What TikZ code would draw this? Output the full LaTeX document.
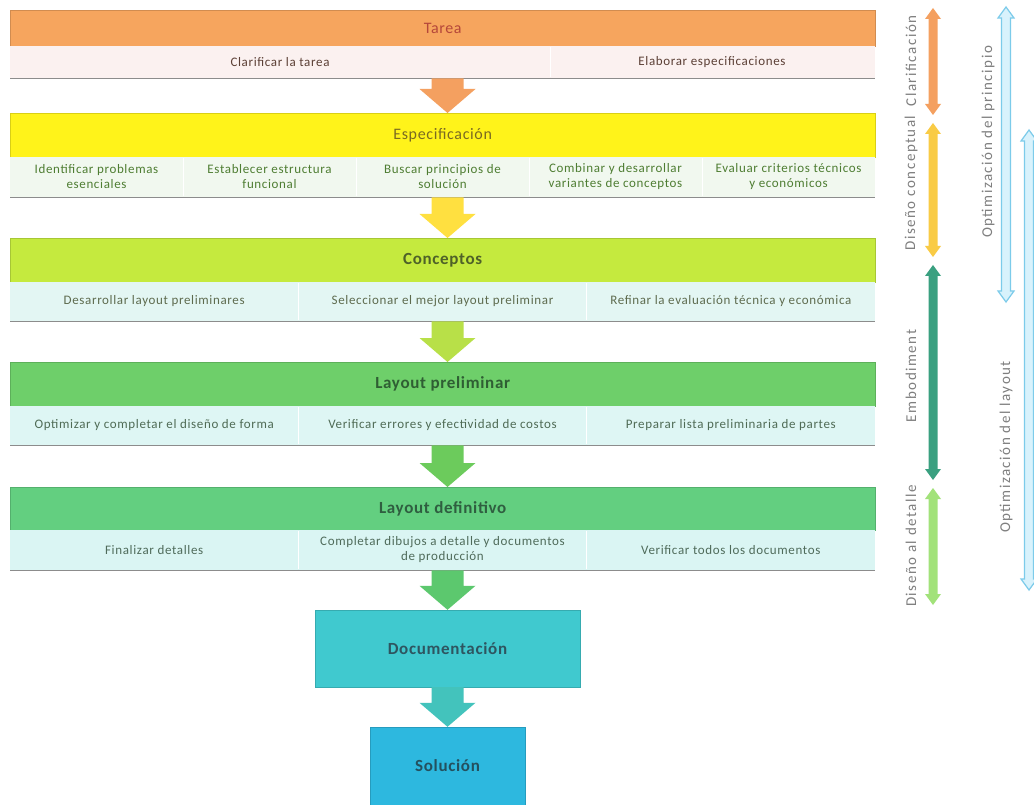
\documentclass[tikz,border=0pt]{standalone}
\usepackage{fontspec}
\setmainfont{Carlito}
\newfontfamily\cellfont{Carlito}[LetterSpace=5]
\newfontfamily\titlefont{Carlito}[LetterSpace=4]
\newfontfamily\sidefont{Carlito}[LetterSpace=10]
\usetikzlibrary{calc}

% band colours
\definecolor{cTarea}{HTML}{F6A55E}\definecolor{cTareaS}{HTML}{FBF1F0}
\definecolor{cTareaT}{HTML}{B5473A}\definecolor{cTareaC}{HTML}{5B3F35}
\definecolor{cEspec}{HTML}{FFF31A}\definecolor{cEspecS}{HTML}{F1F8EF}
\definecolor{cEspecT}{HTML}{7A6A22}\definecolor{cEspecC}{HTML}{4E7D32}
\definecolor{cConc}{HTML}{C5EA3E}\definecolor{cConcS}{HTML}{E3F6F3}
\definecolor{cConcT}{HTML}{4F6228}\definecolor{cConcC}{HTML}{5E6B4E}
\definecolor{cLPre}{HTML}{6ECF6A}\definecolor{cLPreS}{HTML}{DEF6F4}
\definecolor{cLPreT}{HTML}{2F5E33}\definecolor{cLPreC}{HTML}{4F6B55}
\definecolor{cLDef}{HTML}{63CF80}\definecolor{cLDefS}{HTML}{DAF5F3}
\definecolor{cLDefT}{HTML}{2F5E40}\definecolor{cLDefC}{HTML}{4F6B5A}
\definecolor{cDoc}{HTML}{40C9CF}\definecolor{cDocT}{HTML}{2E5560}
\definecolor{cSol}{HTML}{2DB8DF}\definecolor{cSolT}{HTML}{24505E}
% flow arrow colours
\definecolor{cA1}{HTML}{F4A060}\definecolor{cA2}{HTML}{FFE040}
\definecolor{cA3}{HTML}{B8E048}\definecolor{cA4}{HTML}{6CCB5C}
\definecolor{cA5}{HTML}{5CC86E}\definecolor{cA6}{HTML}{43C3BC}
% phase arrow colours
\definecolor{cClar}{HTML}{F4A060}\definecolor{cDisC}{HTML}{F9CB45}
\definecolor{cEmb}{HTML}{3AA080}\definecolor{cDet}{HTML}{A2E27A}
\definecolor{cBlue}{HTML}{7CCBEA}\definecolor{cBlueF}{HTML}{D8F2FC}
\definecolor{cSide}{HTML}{7F7F7F}

% block arrow from the bottom of one node to the top of the next
\newcommand\flowarrow[3]{%
  \fill[#3] let \p1=(#1.south -| doc.center), \p2=(#2.north -| doc.center) in
    (\x1-16pt,\y1) -- (\x1+16pt,\y1) -- (\x1+16pt,\y2+24pt) -- (\x1+28pt,\y2+24pt)
    -- (\x2,\y2) -- (\x1-28pt,\y2+24pt) -- (\x1-16pt,\y2+24pt) -- cycle;}

% vertical double-headed arrow: x, top, bottom, style
\newcommand\dblarrow[4]{%
  \path[#4] (#1,#2) -- ({#1+8},{#2+11}) -- ({#1+4.5},{#2+11}) -- ({#1+4.5},{#3-11})
    -- ({#1+8},{#3-11}) -- (#1,#3) -- ({#1-8},{#3-11}) -- ({#1-4.5},{#3-11})
    -- ({#1-4.5},{#2+11}) -- ({#1-8},{#2+11}) -- cycle;}

\begin{document}
\begin{tikzpicture}[x=1pt,y=-1pt,
  hdr/.style={anchor=north west, minimum width=865pt, inner sep=0pt,
    draw=#1!85!black, line width=0.4pt, fill=#1},
  subrow/.style={anchor=north west, minimum width=865pt, inner sep=0pt, fill=#1},
  subline/.style={draw=black!45, line width=1.1pt},
  divider/.style={draw=white, line width=0.8pt},
  cell/.style={align=center, inner sep=1pt,
    font=\cellfont\fontsize{13}{15}\selectfont},
  ttl/.style={font=\titlefont\fontsize{16}{18}\selectfont},
  bttl/.style={font=\titlefont\bfseries\fontsize{17}{19}\selectfont},
  box/.style={inner sep=0pt, draw=#1!85!black, line width=0.4pt, fill=#1},
  side/.style={rotate=90, text=cSide, inner sep=0pt,
    font=\sidefont\fontsize{15}{17}\selectfont},
  blueopen/.style={fill=cBlueF, draw=cBlue, line width=1.2pt}
]
\useasboundingbox (0,0) rectangle (1034,805);
\fill[white] (0,0) rectangle (1034,805);

% ---- Tarea
\node[hdr=cTarea, minimum height=36pt, ttl, text=cTareaT] (tarea) at (10,10) {Tarea};
\node[subrow=cTareaS, minimum height=32pt] (tareaS) at (10,46) {};
\draw[subline] (tareaS.south west) -- (tareaS.south east);
\draw[divider] (550,47) -- (550,77);
\node[cell, text=cTareaC] (t1) at (280,62) {Clarificar la tarea};
\node[cell, text=cTareaC] (t2) at (712,62) {Elaborar especificaciones};

% ---- Especificación
\node[hdr=cEspec, minimum height=44pt, ttl, text=cEspecT] (espec) at (10,113) {Especificación};
\node[subrow=cEspecS, minimum height=40pt] (especS) at (10,157) {};
\draw[subline] (especS.south west) -- (especS.south east);
\foreach \d in {183,356,529,702} \draw[divider] (\d,158) -- (\d,196);
\node[cell, text=cEspecC] (e1) at (96.5,177) {Identificar problemas\\esenciales};
\node[cell, text=cEspecC] (e2) at (269.5,177) {Establecer estructura\\funcional};
\node[cell, text=cEspecC] (e3) at (442.5,177) {Buscar principios de\\solución};
\node[cell, text=cEspecC] (e4) at (615.5,177) {Combinar y desarrollar\\variantes de conceptos};
\node[cell, text=cEspecC] (e5) at (788.5,177) {Evaluar criterios técnicos\\y económicos};

% ---- Conceptos
\node[hdr=cConc, minimum height=44pt, bttl, text=cConcT] (conc) at (10,238) {Conceptos};
\node[subrow=cConcS, minimum height=39pt] (concS) at (10,282) {};
\draw[subline] (concS.south west) -- (concS.south east);
\foreach \d in {298.3,586.7} \draw[divider] (\d,283) -- (\d,320);
\node[cell, text=cConcC] (c1) at (154.2,301.5) {Desarrollar layout preliminares};
\node[cell, text=cConcC] (c2) at (442.5,301.5) {Seleccionar el mejor layout preliminar};
\node[cell, text=cConcC] (c3) at (730.8,301.5) {Refinar la evaluación técnica y económica};

% ---- Layout preliminar
\node[hdr=cLPre, minimum height=44pt, bttl, text=cLPreT] (lpre) at (10,362) {Layout preliminar};
\node[subrow=cLPreS, minimum height=39pt] (lpreS) at (10,406) {};
\draw[subline] (lpreS.south west) -- (lpreS.south east);
\foreach \d in {298.3,586.7} \draw[divider] (\d,407) -- (\d,444);
\node[cell, text=cLPreC] (p1) at (154.2,425.5) {Optimizar y completar el diseño de forma};
\node[cell, text=cLPreC] (p2) at (442.5,425.5) {Verificar errores y efectividad de costos};
\node[cell, text=cLPreC] (p3) at (730.8,425.5) {Preparar lista preliminaria de partes};

% ---- Layout definitivo
\node[hdr=cLDef, minimum height=43pt, bttl, text=cLDefT] (ldef) at (10,487) {Layout definitivo};
\node[subrow=cLDefS, minimum height=40pt] (ldefS) at (10,530) {};
\draw[subline] (ldefS.south west) -- (ldefS.south east);
\foreach \d in {298.3,586.7} \draw[divider] (\d,531) -- (\d,569);
\node[cell, text=cLDefC] (d1) at (154.2,550) {Finalizar detalles};
\node[cell, text=cLDefC] (d2) at (442.5,550) {Completar dibujos a detalle y documentos\\de producción};
\node[cell, text=cLDefC] (d3) at (730.8,550) {Verificar todos los documentos};

% ---- Documentación and Solución
\node[box=cDoc, minimum width=265pt, minimum height=77pt, bttl, text=cDocT] (doc) at (447.5,648.5) {Documentación};
\node[box=cSol, minimum width=155pt, minimum height=78pt, bttl, text=cSolT] (sol) at (447.5,766) {Solución};

% ---- flow arrows
\flowarrow{tareaS}{espec}{cA1}
\flowarrow{especS}{conc}{cA2}
\flowarrow{concS}{lpre}{cA3}
\flowarrow{lpreS}{ldef}{cA4}
\flowarrow{ldefS}{doc}{cA5}
\flowarrow{doc}{sol}{cA6}

% ---- phases
\dblarrow{933}{8}{115}{fill=cClar}
\dblarrow{933}{123}{257}{fill=cDisC}
\dblarrow{933}{265}{480}{fill=cEmb}
\dblarrow{933}{488}{605}{fill=cDet}
\dblarrow{1006}{7}{302}{blueopen}
\dblarrow{1029}{130}{590}{blueopen}

\node[side] (lclar) at (911,61) {Clarificación};
\node[side] (lconc) at (911,183) {Diseño conceptual};
\node[side] (lemb) at (911,376) {Embodiment};
\node[side] (ldet) at (911,546) {Diseño al detalle};
\node[side] (lprin) at (988,142) {Optimización del principio};
\node[side] (llay) at (1006,447) {Optimización del layout};
\end{tikzpicture}
\end{document}
